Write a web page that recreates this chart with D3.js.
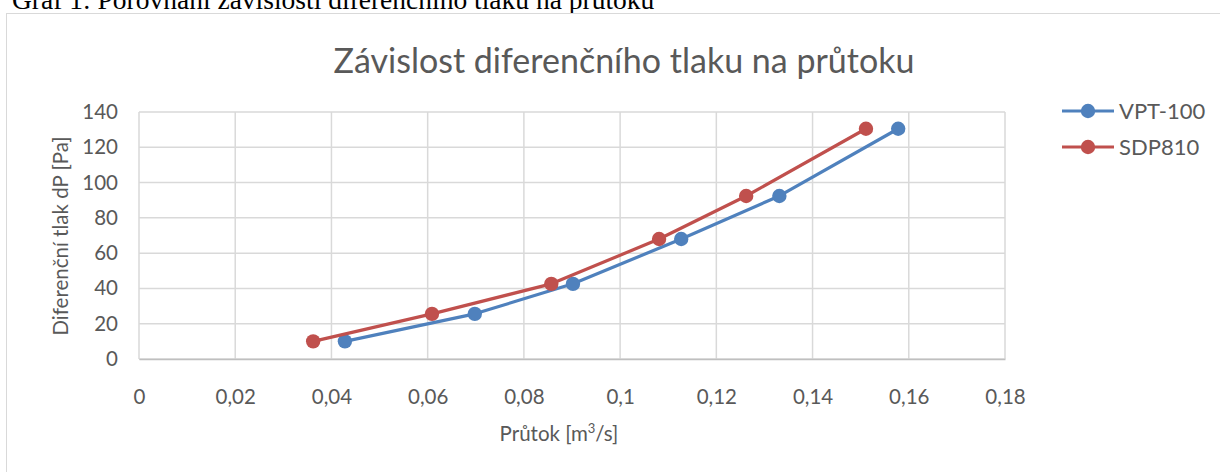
<!DOCTYPE html>
<html><head><meta charset="utf-8">
<script src="https://cdn.jsdelivr.net/npm/d3@7"></script>
<style>body{margin:0;background:#fff;overflow:hidden}svg{display:block}</style>
</head><body>
<script>
const seriesNames = ["VPT-100", "SDP810"];
const seriesColors = ["#4f81bd", "#c0504d"];
const vptFlow = [0.0428, 0.0698, 0.0902, 0.1127, 0.1331, 0.1578];
const vptPressure = [10, 25.6, 42.6, 68, 92.4, 130.5];
const sdpFlow = [0.0362, 0.0609, 0.0857, 0.1081, 0.1262, 0.1511];
const sdpPressure = [10, 25.6, 42.6, 68, 92.4, 130.5];
const xTicks = [0, 0.02, 0.04, 0.06, 0.08, 0.1, 0.12, 0.14, 0.16, 0.18];
const yTicks = [0, 20, 40, 60, 80, 100, 120, 140];
const titleText = "Závislost diferenčního tlaku na průtoku";
const captionText = "Graf 1: Porovnání závislosti diferenčního tlaku na průtoku";

const W = 1220, H = 472;
const svg = d3.select("body").append("svg").attr("width", W).attr("height", H);
const font = "Lato, 'Open Sans', sans-serif";
const txt = "#595959";

svg.append("text").attr("x", 12).attr("y", 9)
  .attr("font-family", "'Liberation Serif', serif").attr("font-size", 27.5)
  .attr("fill", "#000").text(captionText);

svg.append("rect").attr("x", 6.5).attr("y", 13.5).attr("width", W + 10).attr("height", H)
  .attr("fill", "#fff").attr("stroke", "#d9d9d9").attr("stroke-width", 1);

const x = d3.scaleLinear().domain([0, 0.18]).range([139, 1005]);
const y = d3.scaleLinear().domain([0, 140]).range([359, 112]);

// gridlines
const grid = svg.append("g");
grid.selectAll(".vg").data(xTicks).join("line")
  .attr("x1", d => x(d)).attr("x2", d => x(d)).attr("y1", y(0)).attr("y2", y(140))
  .attr("stroke", "#d9d9d9").attr("stroke-width", 1.5);
grid.selectAll(".hg").data(yTicks).join("line")
  .attr("x1", x(0)).attr("x2", x(0.18)).attr("y1", d => y(d)).attr("y2", d => y(d))
  .attr("stroke", "#d9d9d9").attr("stroke-width", 1.5);

// axes
const fmt = d => String(+d.toFixed(2)).replace(".", ",");
const xAxis = svg.append("g").attr("transform", `translate(0,${y(0)})`)
  .call(d3.axisBottom(x).tickValues(xTicks).tickSize(0).tickPadding(30).tickFormat(fmt));
xAxis.select(".domain").attr("stroke", "#bfbfbf").attr("stroke-width", 1.5);
xAxis.selectAll("text").attr("font-family", font).attr("font-size", 20.5).attr("fill", txt);

const yAxis = svg.append("g").attr("transform", `translate(${x(0)},0)`)
  .call(d3.axisLeft(y).tickValues(yTicks).tickSize(0).tickPadding(21).tickFormat(d => d));
yAxis.select(".domain").remove();
yAxis.selectAll("text").attr("font-family", font).attr("font-size", 20.5).attr("fill", txt);

// series
const series = [
  {name: seriesNames[0], color: seriesColors[0], pts: vptFlow.map((f, i) => [f, vptPressure[i]])},
  {name: seriesNames[1], color: seriesColors[1], pts: sdpFlow.map((f, i) => [f, sdpPressure[i]])}
];
const line = d3.line().x(d => x(d[0])).y(d => y(d[1]));
series.forEach(s => {
  svg.append("path").attr("d", line(s.pts)).attr("fill", "none")
    .attr("stroke", s.color).attr("stroke-width", 3.2).attr("stroke-linejoin", "round");
  svg.append("g").selectAll("circle").data(s.pts).join("circle")
    .attr("cx", d => x(d[0])).attr("cy", d => y(d[1])).attr("r", 7.2).attr("fill", s.color);
});

// title
svg.append("text").attr("x", 624).attr("y", 73).attr("text-anchor", "middle")
  .attr("font-family", font).attr("font-size", 34).attr("fill", txt).text(titleText);

// axis titles
svg.append("text").attr("transform", "translate(68,236) rotate(-90)").attr("text-anchor", "middle")
  .attr("font-family", font).attr("font-size", 20.5).attr("fill", txt).text("Diferenční tlak dP [Pa]");
const xt = svg.append("text").attr("x", 559).attr("y", 441).attr("text-anchor", "middle")
  .attr("font-family", font).attr("font-size", 20.5).attr("fill", txt);
xt.append("tspan").text("Průtok [m");
xt.append("tspan").attr("dy", -8).attr("font-size", 13).text("3");
xt.append("tspan").attr("dy", 8).text("/s]");

// legend
const leg = svg.append("g");
series.forEach((s, i) => {
  const ly = 111 + i * 36;
  leg.append("line").attr("x1", 1062).attr("x2", 1114).attr("y1", ly).attr("y2", ly)
    .attr("stroke", s.color).attr("stroke-width", 3.2);
  leg.append("circle").attr("cx", 1088).attr("cy", ly).attr("r", 7.2).attr("fill", s.color);
  leg.append("text").attr("x", 1119).attr("y", ly + 8).attr("font-family", font)
    .attr("font-size", 22).attr("fill", txt).text(s.name);
});
</script>
</body></html>
